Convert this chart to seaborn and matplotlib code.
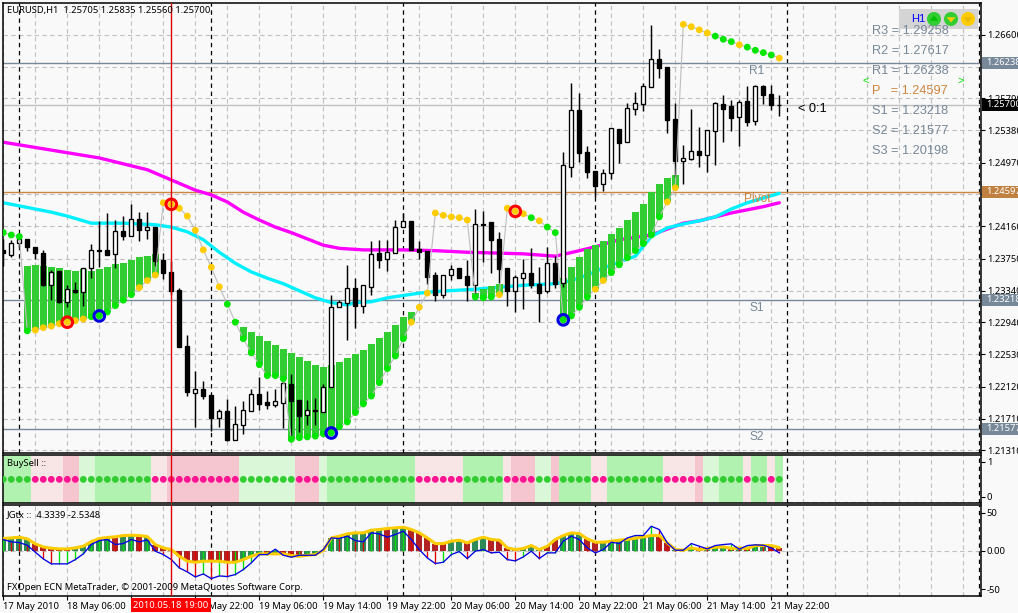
"""
EURUSD H1 MetaTrader screen: candles, pivots, stop dots, BuySell and JGtx panes.
Output: out.png
"""

import numpy as np
import matplotlib
matplotlib.use("Agg")
import matplotlib.pyplot as plt
import seaborn as sns
from matplotlib.patches import Circle, Polygon, Rectangle

# ==========================================
# 1. DATA
# ==========================================
opens = [1.2386, 1.2380, 1.2395, 1.2400, 1.2390, 1.2382, 1.2341, 1.2359, 1.2320, 1.2335,
         1.2333, 1.2363, 1.2386, 1.2386, 1.2381, 1.2410, 1.2404, 1.2425, 1.2411, 1.2415,
         1.2373, 1.2358, 1.2335, 1.2264, 1.2204, 1.2209, 1.2201, 1.2172, 1.2181, 1.2144,
         1.2163, 1.2181, 1.2203, 1.2192, 1.2189, 1.2191, 1.2215, 1.2195, 1.2176, 1.2182,
         1.2180, 1.2212, 1.2313, 1.2319, 1.2338, 1.2315, 1.2339, 1.2382, 1.2375, 1.2382,
         1.2415, 1.2423, 1.2387, 1.2385, 1.2354, 1.2329, 1.2354, 1.2363, 1.2353, 1.2341,
         1.2419, 1.2422, 1.2400, 1.2363, 1.2334, 1.2350, 1.2357, 1.2343, 1.2334, 1.2369,
         1.2344, 1.2491, 1.2564, 1.2511, 1.2486, 1.2470, 1.2484, 1.2540, 1.2523, 1.2565,
         1.2572, 1.2593, 1.2629, 1.2619, 1.2553, 1.2499, 1.2502, 1.2512, 1.2507, 1.2537,
         1.2572, 1.2569, 1.2555, 1.2575, 1.2550, 1.2595, 1.2584, 1.25705]
highs = [1.2400, 1.2399, 1.2401, 1.2400, 1.2390, 1.2386, 1.2361, 1.2359, 1.2341, 1.2345,
         1.2363, 1.2394, 1.2423, 1.2433, 1.2424, 1.2429, 1.2444, 1.2434, 1.2434, 1.2415,
         1.2382, 1.2372, 1.2338, 1.2278, 1.2232, 1.2219, 1.2201, 1.2184, 1.2196, 1.2187,
         1.2194, 1.2209, 1.2224, 1.2206, 1.2209, 1.2222, 1.2228, 1.2195, 1.2195, 1.2198,
         1.2215, 1.2329, 1.2322, 1.2367, 1.2350, 1.2341, 1.2397, 1.2399, 1.2399, 1.2424,
         1.2433, 1.2423, 1.2397, 1.2385, 1.2358, 1.2354, 1.2367, 1.2363, 1.2373, 1.2438,
         1.2435, 1.2422, 1.2409, 1.2363, 1.2354, 1.2375, 1.2388, 1.2364, 1.2390, 1.2378,
         1.2511, 1.2598, 1.2586, 1.2518, 1.2486, 1.2489, 1.2541, 1.2540, 1.2573, 1.2587,
         1.2598, 1.2672, 1.2642, 1.2619, 1.2573, 1.2519, 1.2565, 1.2542, 1.2539, 1.2574,
         1.2583, 1.2577, 1.2577, 1.2595, 1.2596, 1.2596, 1.2596, 1.25835]
lows = [1.2366, 1.2377, 1.2390, 1.2385, 1.2375, 1.2340, 1.2322, 1.2319, 1.2313, 1.2331,
        1.2315, 1.2350, 1.2364, 1.2380, 1.2363, 1.2399, 1.2404, 1.2397, 1.2400, 1.2366,
        1.2349, 1.2329, 1.2262, 1.2200, 1.2161, 1.2196, 1.2156, 1.2161, 1.2143, 1.2144,
        1.2152, 1.2181, 1.2182, 1.2184, 1.2186, 1.2159, 1.2145, 1.2154, 1.2163, 1.2163,
        1.2180, 1.2212, 1.2313, 1.2271, 1.2287, 1.2306, 1.2329, 1.2363, 1.2359, 1.2382,
        1.2415, 1.2386, 1.2375, 1.2343, 1.2321, 1.2325, 1.2348, 1.2350, 1.2321, 1.2328,
        1.2371, 1.2357, 1.2344, 1.2315, 1.2307, 1.2311, 1.2338, 1.2294, 1.2331, 1.2338,
        1.2339, 1.2479, 1.2498, 1.2478, 1.2453, 1.2461, 1.2476, 1.2497, 1.2523, 1.2558,
        1.2563, 1.2593, 1.2605, 1.2535, 1.2479, 1.2470, 1.2500, 1.2491, 1.2485, 1.2494,
        1.2523, 1.2537, 1.2518, 1.2544, 1.2545, 1.2572, 1.2564, 1.25560]
closes = [1.2382, 1.2395, 1.2400, 1.2390, 1.2382, 1.2341, 1.2358, 1.2320, 1.2336, 1.2333,
          1.2363, 1.2386, 1.2385, 1.2380, 1.2410, 1.2404, 1.2425, 1.2411, 1.2415, 1.2372,
          1.2356, 1.2334, 1.2262, 1.2205, 1.2209, 1.2200, 1.2172, 1.2181, 1.2144, 1.2165,
          1.2182, 1.2203, 1.2190, 1.2189, 1.2194, 1.2217, 1.2194, 1.2175, 1.2182, 1.2181,
          1.2212, 1.2313, 1.2320, 1.2338, 1.2315, 1.2341, 1.2381, 1.2373, 1.2383, 1.2415,
          1.2423, 1.2386, 1.2383, 1.2352, 1.2328, 1.2354, 1.2362, 1.2350, 1.2341, 1.2419,
          1.2418, 1.2399, 1.2362, 1.2334, 1.2352, 1.2357, 1.2341, 1.2331, 1.2369, 1.2343,
          1.2494, 1.2564, 1.2509, 1.2485, 1.2467, 1.2484, 1.2541, 1.2522, 1.2567, 1.2573,
          1.2595, 1.2629, 1.2617, 1.2551, 1.2499, 1.2503, 1.2512, 1.2507, 1.2539, 1.2573,
          1.2565, 1.2554, 1.2574, 1.2549, 1.2595, 1.2583, 1.2570, 1.25700]

# stop dots, one per bar
stops = [1.2408, 1.2405, 1.2403, 1.2283, 1.2284, 1.2287, 1.2289, 1.2292, 1.2294, 1.2296,
         1.2298, 1.2301, 1.2302, 1.2307, 1.2315, 1.2322, 1.2329, 1.2338, 1.2347, 1.2354,
         1.2446, 1.2444, 1.2439, 1.2429, 1.2411, 1.2386, 1.2364, 1.2339, 1.2317, 1.2294,
         1.2273, 1.2255, 1.2240, 1.2226, 1.2226, 1.2222, 1.2145, 1.2147, 1.2148, 1.2149,
         1.2152, 1.2153, 1.2161, 1.2167, 1.2179, 1.2190, 1.2200, 1.2217, 1.2235, 1.2251,
         1.2273, 1.2294, 1.2313, 1.2331, 1.2433, 1.2430, 1.2428, 1.2427, 1.2424, 1.2326,
         1.2325, 1.2326, 1.2329, 1.2439, 1.2435, 1.2432, 1.2427, 1.2423, 1.2415, 1.2408,
         1.2297, 1.2302, 1.2313, 1.2326, 1.2336, 1.2347, 1.2357, 1.2367, 1.2376, 1.2385,
         1.2394, 1.2405, 1.2428, 1.2447, 1.2465, 1.2673, 1.2670, 1.2666, 1.2662, 1.2658,
         1.2654, 1.2651, 1.2647, 1.2644, 1.2640, 1.2637, 1.2634, 1.2630]
stop_kinds = ("gggg" "yyyyyyy" "gggggg" "yyyyyyyyyyy" + "g" * 23 + "y" * 8
              + "ggg" "yyyy" "g" "y" "gg" "gggg" "yy" "ggggggg" "yyyyyy" "ggg" "y" "gggg" "y")
red_rings = [8, 21, 64]
blue_rings = [12, 41, 70]

# green cloud tops, bottoms sit on the stop dots
cloud_bars = list(range(3, 20)) + list(range(29, 52)) + list(range(59, 63)) + list(range(70, 85))
cloud_tops = [1.2366, 1.2367, 1.2366, 1.2364, 1.2363, 1.2361, 1.2359, 1.2362, 1.2359, 1.2362,
              1.2364, 1.2368, 1.2369, 1.2373, 1.2377, 1.2378, 1.2381,
              1.2297, 1.2288, 1.2282, 1.2276, 1.2270, 1.2265, 1.2260, 1.2255, 1.2250, 1.2245,
              1.2240, 1.2237, 1.2240, 1.2243, 1.2249, 1.2254, 1.2259, 1.2266, 1.2274, 1.2282,
              1.2291, 1.2300, 1.2307,
              1.2331, 1.2336, 1.2340, 1.2343,
              1.2350, 1.2364, 1.2377, 1.2387, 1.2392, 1.2397, 1.2406, 1.2414, 1.2424, 1.2434,
              1.2444, 1.2460, 1.2470, 1.2478, 1.2481]

magenta_bars = [0, 6, 12, 18, 24, 26, 28, 30, 32, 34, 36, 38, 40, 42, 45, 50, 54, 58, 65, 69,
                72, 74, 77, 81, 85, 87, 89, 91, 93, 95, 97]
magenta_vals = [1.2523, 1.2513, 1.2503, 1.2488, 1.2462, 1.2456, 1.2447, 1.2434, 1.2424, 1.2415,
                1.2408, 1.2400, 1.2392, 1.2388, 1.2386, 1.2386, 1.2385, 1.2383, 1.2381, 1.2378,
                1.2385, 1.2390, 1.2399, 1.2405, 1.2420, 1.2423, 1.2428, 1.2433, 1.2437, 1.2441,
                1.2446]
cyan_bars = [0, 2, 4, 6, 8, 10, 11, 12, 15, 19, 21, 23, 25, 27, 29, 31, 33, 35, 37, 39, 41, 43,
             44, 46, 48, 50, 52, 54, 59, 65, 69, 71, 73, 75, 79, 81, 83, 85, 87, 89, 91, 93, 95, 97]
cyan_vals = [1.2446, 1.2442, 1.2438, 1.2434, 1.2429, 1.2423, 1.2420, 1.2420, 1.2420, 1.2418,
             1.2415, 1.2409, 1.2399, 1.2383, 1.2369, 1.2358, 1.2350, 1.2343, 1.2334, 1.2325,
             1.2319, 1.2316, 1.2319, 1.2320, 1.2325, 1.2328, 1.2331, 1.2333, 1.2336, 1.2341,
             1.2343, 1.2347, 1.2354, 1.2363, 1.2378, 1.2403, 1.2414, 1.2419, 1.2423, 1.2428,
             1.2438, 1.2446, 1.2452, 1.2458]

pivot_names = ["R1", "Pivot", "S1", "S2"]
pivot_prices = [1.26238, 1.24597, 1.23218, 1.21577]
last_price = 1.25700
price_ticks = [1.26600, 1.26190, 1.25790, 1.25380, 1.24970, 1.24570, 1.24160,
               1.23750, 1.23340, 1.22940, 1.22530, 1.22120, 1.21710, 1.21310]
# these two sit fully under the pivot price boxes
covered_ticks = [1.26190, 1.24570]
pivot_rows = ["R3 = 1.29258", "R2 = 1.27617", "R1 = 1.26238", "P   = 1.24597",
              "S1 = 1.23218", "S2 = 1.21577", "S3 = 1.20198"]

# BuySell bands as runs: S strong green, L light green, P pale pink, K pink
band_kinds = ["S", "P", "K", "L", "S", "P", "K", "L", "K", "L", "S", "P", "S", "P", "K", "L",
              "K", "S", "P", "S", "P", "K", "L", "S", "P", "S", "P", "S"]
band_lengths = [4, 4, 2, 2, 7, 2, 9, 7, 3, 1, 11, 6, 5, 1, 3, 2, 1, 4, 2, 7, 4, 1, 2, 3, 1, 2, 1, 1]

# JGtx pane
jg_gold = [16.2, 17.0, 17.9, 15.7, 9.2, 5.2, 3.5, 2.6, 2.6, 3.9, 6.1, 12.2, 16.2, 17.5, 18.4,
           20.1, 20.5, 20.1, 18.8, 8.3, 3.9, 1.7, -7.0, -13.5, -14.9, -13.5, -13.5, -13.5, -14.9,
           -14.9, -11.4, -7.0, -3.9, -3.9, -3.9, -3.9, -6.1, -7.0, -5.7, -4.8, 0.4, 17.0, 19.2,
           22.3, 23.6, 23.6, 27.1, 28.0, 29.3, 30.2, 31.0, 28.0, 23.6, 17.0, 9.6, 9.6, 12.7, 14.0,
           10.5, 14.9, 17.9, 14.9, 14.0, 3.9, 1.7, 3.1, 7.0, 1.7, 6.1, 14.9, 20.1, 23.6, 22.7,
           15.7, 11.4, 11.4, 12.7, 14.0, 14.9, 16.6, 18.4, 20.1, 20.1, 10.5, 1.7, 0.9, 3.9, 1.7,
           3.1, 4.8, 5.2, 3.1, 3.9, 3.1, 7.0, 7.0, 7.0, 4.33]
jg_blue = [14.9, 11.8, 10.9, 7.4, -1.7, -10.5, -17.0, -17.0, -17.0, -11.4, -3.9, 8.3, 13.5, 14.9,
           8.3, 9.6, 14.9, 11.8, 14.4, -0.4, -4.8, -11.4, -22.3, -27.5, -34.1, -30.2, -36.3,
           -32.8, -33.6, -31.0, -24.5, -15.7, -4.8, -4.8, 2.2, -5.7, -8.3, -5.7, -5.7, -5.7, 1.7,
           17.0, 16.2, 19.2, 13.5, 11.8, 23.6, 22.3, 17.9, 21.4, 25.8, 14.9, 1.7, -9.2, -16.6,
           -14.9, -4.8, -0.9, -10.0, -0.4, 1.7, -2.6, -1.7, -11.4, -13.1, -7.9, -0.4, -10.0, -2.6,
           -2.6, 12.7, 19.2, 14.9, 3.9, -2.6, 1.7, 11.4, 9.6, 17.0, 20.1, 20.1, 32.3, 27.9, 10.5,
           0.9, 0.9, 9.6, 6.1, 2.6, 7.0, 8.3, 9.2, 2.2, 7.0, 7.9, 7.4, 3.9, -2.53]
jg_kinds = ("gggg" "rrrrr" "ggggg" "r" "gg" "r" "g" "rrrrrr" "g" "rrrr" "ggg" "r" "g" "rrr"
            "gggggggggg" "r" "gg" "rrrrr" "gg" "r" "gg" "rrrr" "ggg" "rr" "ggg" "rr" "ggggggg"
            "rr" "ggg" "r" "ggg" "r" "g" "r" "gg" "rr")

# the 14:00 label of 18 May is under the red crosshair date box
date_labels = ["17 May 2010", "18 May 06:00", "", "18 May 22:00", "19 May 06:00",
               "19 May 14:00", "19 May 22:00", "20 May 06:00", "20 May 14:00", "20 May 22:00",
               "21 May 06:00", "21 May 14:00", "21 May 22:00"]

# ==========================================
# 2. FIGURE SETUP
# ==========================================
W, H = 1018, 613
BG = "#F9F9F9"
GREEN = "#32CD32"
SLATE = "#778899"
PERU = "#CD853F"
GRID = dict(color="#C0C0C0", linewidth=0.8, linestyle=(0, (4, 3)), zorder=0.5)
SEP = dict(color="black", linewidth=0.9, linestyle=(0, (3.5, 3)), zorder=0.6)

sns.set_style("white")
plt.rcParams["font.family"] = ["Noto Sans", "DejaVu Sans"]
plt.rcParams["font.size"] = 6.75

bars = np.arange(len(closes))
fig = plt.figure(figsize=(W / 100, H / 100), dpi=100, facecolor=BG)


def pane(left, top, right, bottom):
    ax = fig.add_axes([left / W, 1 - bottom / H, (right - left) / W, (bottom - top) / H])
    ax.set_facecolor(BG)
    for s in ax.spines.values():
        s.set_color("black")
        s.set_linewidth(1.1)
    ax.set_xlim(-0.1, 122.15)
    ax.yaxis.tick_right()
    ax.tick_params(axis="y", length=3, width=0.8, pad=1.5, colors="black", left=False, right=True)
    ax.tick_params(axis="x", length=0)
    ax.set_xticks([])
    for b in range(0, 123, 4):
        ax.axvline(b, **GRID)
    for b in range(2, 123, 24):
        ax.axvline(b, **SEP)
    ax.axvline(21, color="#E00000", linewidth=1.0, zorder=8)
    return ax


ax = pane(2.5, 2.5, 980.5, 452.5)
ax2 = pane(2.5, 455, 980.5, 502.7)
ax3 = pane(2.5, 505, 980.5, 596)

# ==========================================
# 3. MAIN PANE
# ==========================================
ax.set_ylim(1.21282, 1.27008)
ax.set_yticks(price_ticks)
ax.set_yticklabels(["" if p in covered_ticks else f"{p:.5f}" for p in price_ticks])
for p in price_ticks:
    ax.axhline(p, **GRID)

for name, p in zip(pivot_names, pivot_prices):
    ax.axhline(p, color=PERU if name == "Pivot" else SLATE, linewidth=1.0, zorder=0.8)
ax.axhline(last_price, color="#C0C0C0", linewidth=1.0, zorder=0.8)

sns.lineplot(x=magenta_bars, y=magenta_vals, ax=ax, color="#FF00FF", linewidth=2.4, zorder=1)
sns.lineplot(x=cyan_bars, y=cyan_vals, ax=ax, color="#00F0FF", linewidth=2.4, zorder=1.1)

stops_arr = np.array(stops)
ax.bar(cloud_bars, np.array(cloud_tops) - stops_arr[cloud_bars], bottom=stops_arr[cloud_bars],
       width=0.9, color=GREEN, linewidth=0, zorder=2)

ax.vlines(bars, lows, highs, color="black", linewidth=1.05, zorder=3)
body_low = np.minimum(opens, closes)
body_size = np.abs(np.array(closes) - np.array(opens))
body_fill = ["white" if c >= o else "black" for o, c in zip(opens, closes)]
ax.bar(bars, np.maximum(body_size, 0.00006), bottom=body_low, width=0.5, color=body_fill,
       edgecolor="black", linewidth=0.95, zorder=3.1)

sns.lineplot(x=bars, y=stops, ax=ax, color="#BEBEBE", linewidth=0.8, zorder=4)
dot_colours = {"g": "#00E600", "y": "#FFCC00"}
sns.scatterplot(x=bars, y=stops, hue=list(stop_kinds), palette=dot_colours, ax=ax, s=24,
                linewidth=0, legend=False, zorder=5)
ax.scatter(red_rings, stops_arr[red_rings], s=58, facecolor="none", edgecolor="#FF0000",
           linewidth=2.2, zorder=6)
ax.scatter(blue_rings, stops_arr[blue_rings], s=58, facecolor="none", edgecolor="#0000E0",
           linewidth=2.2, zorder=6)
ax.set_xlabel("")
ax.set_ylabel("")

# ==========================================
# 4. BUYSELL PANE
# ==========================================
ax2.set_ylim(-0.17, 1.2)
ax2.set_yticks([1, 0])
ax2.set_yticklabels(["1", "0"])
ax2.axhline(-0.14, **GRID)
band_colours = {"S": "#B2F2B0", "L": "#DAF8D8", "P": "#F8E6E6", "K": "#F6C6D0"}
per_bar = np.repeat(band_kinds, band_lengths)
ax2.bar(bars, 1.37, bottom=-0.17, width=1.0, color=[band_colours[k] for k in per_bar],
        linewidth=0, zorder=2)
signal = ["up" if k in "SL" else "down" for k in per_bar]
sns.scatterplot(x=bars, y=np.full(len(bars), 0.5), hue=signal,
                palette={"up": GREEN, "down": "#FF1493"}, ax=ax2, s=24, linewidth=0,
                legend=False, zorder=5)
ax2.set_xlabel("")
ax2.set_ylabel("")

# ==========================================
# 5. JGTX PANE
# ==========================================
sns.barplot(x=bars, y=jg_gold, hue=list(jg_kinds), palette={"g": "#2E8B57", "r": "#B22222"},
            native_scale=True, dodge=False, width=0.72, saturation=1, linewidth=0,
            legend=False, ax=ax3, zorder=2)
thin = ["#00E000"] + ["#00E000" if b >= a else "#E00000" for a, b in zip(jg_blue, jg_blue[1:])]
ax3.vlines(bars, 0, jg_blue, colors=thin, linewidth=0.95, zorder=3)
sns.lineplot(x=bars, y=jg_gold, ax=ax3, color="#FFCC00", linewidth=2.2, zorder=4)
sns.lineplot(x=bars, y=jg_blue, ax=ax3, color="#0000E6", linewidth=0.95, zorder=5)
ax3.axhline(0, **GRID)
ax3.set_xlim(-0.1, 122.15)
ax3.set_ylim(-59.1, 60.1)
ax3.set_yticks([50, 0, -50])
ax3.set_yticklabels(["50", "0.00", "-50"])
ax3.set_xticks(np.arange(0, len(date_labels)) * 8)
ax3.set_xticklabels(date_labels, ha="left")
ax3.tick_params(axis="x", length=3, width=0.8, pad=1.5, bottom=True, colors="black")
ax3.set_xlabel("")
ax3.set_ylabel("")

# ==========================================
# 6. PIXEL OVERLAY: TEXTS, BOXES, WIDGET
# ==========================================
ov = fig.add_axes([0, 0, 1, 1], zorder=20)
ov.set_xlim(0, W)
ov.set_ylim(H, 0)
ov.axis("off")
ov.patch.set_alpha(0)

ov.text(7, 10, "EURUSD,H1  1.25705 1.25835 1.25560 1.25700", va="center", color="black")
ov.text(7, 464, "BuySell ::", va="center", color="black")
ov.text(7, 515, "JGtx ::  4.3339 -2.5348", va="center", color="black")
ov.text(7, 588, "FXOpen ECN MetaTrader, © 2001-2009 MetaQuotes Software Corp.", va="center",
        color="black")

# price boxes on the right scale
boxes = [(63, SLATE, "1.26238"), (105, "black", "1.25700"), (192, "#C08040", "1.24597"),
         (300, SLATE, "1.23218"), (429, SLATE, "1.21577")]
for y, col, txt in boxes:
    ov.add_patch(Rectangle((982, y - 6), 36, 11.5, facecolor=col, edgecolor="none", zorder=2))
    ov.text(986, y - 0.5, txt, va="center", color="white", zorder=3, clip_on=True)

# crosshair date box
ov.add_patch(Rectangle((131, 598), 80, 14, facecolor="#FF0000", edgecolor="none", zorder=2))
ov.text(171, 605, "2010.05.18 19:00", ha="center", va="center", color="white", zorder=3)

for name, y, col in [("R1", 71, SLATE), ("Pivot", 199, PERU), ("S1", 308, SLATE), ("S2", 437, SLATE)]:
    ov.text(757, y, name, ha="center", va="center", color=col, fontsize=8.6, family="Liberation Sans")

for row, y in zip(pivot_rows, [31, 51, 71, 91, 111, 131, 151]):
    ov.text(872, y, row, va="center", fontsize=9.2, family="Liberation Sans",
            color=PERU if row.startswith("P") else SLATE)
ov.text(866, 81, "<", ha="center", va="center", color="#00E000", fontsize=8, family="Liberation Sans")
ov.text(961, 81, ">", ha="center", va="center", color="#00E000", fontsize=8, family="Liberation Sans")
ov.text(798, 109, "< 0:1", va="center", color="black", fontsize=9.2, family="Liberation Sans")

# trend light widget
ov.add_patch(Rectangle((899, 9), 79, 20, facecolor="#D4D4D4", edgecolor="none"))
ov.text(911, 19, "H1", ha="left", va="center", color="#0000FF", fontsize=8, family="Liberation Sans")
for cx, face, tri, up in [(934, GREEN, "#00C000", True), (951, GREEN, "#FFCC00", False),
                          (968, "#FFCC00", "#E6B800", False)]:
    ov.add_patch(Circle((cx, 19), 7, facecolor=face, edgecolor="none", zorder=2))
    d = -3.5 if up else 3.5
    ov.add_patch(Polygon([(cx - 4.5, 19 - d * 0.5), (cx + 4.5, 19 - d * 0.5), (cx, 19 + d)],
                         facecolor=tri, edgecolor="none", zorder=3))

fig.savefig("out.png", dpi=100, facecolor=BG)
